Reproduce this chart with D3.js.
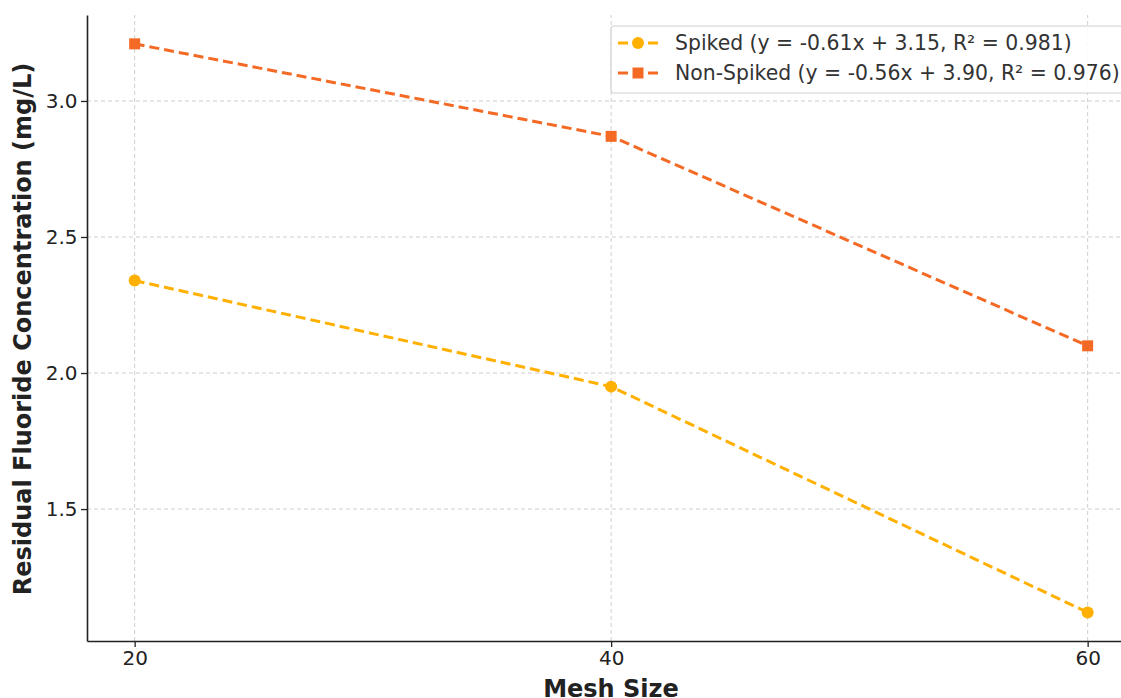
<!DOCTYPE html>
<html>
<head>
<meta charset="utf-8">
<script src="https://cdn.jsdelivr.net/npm/d3@7"></script>
<style>
  body { margin: 0; background: #fff; }
  svg { font-family: "DejaVu Sans", sans-serif; }
</style>
</head>
<body>
<div id="chart"></div>
<script>
const meshSizes = [20, 40, 60];
const spiked = [2.34, 1.95, 1.12];
const nonSpiked = [3.21, 2.87, 2.10];
const yTicks = [1.5, 2.0, 2.5, 3.0];
const seriesNames = [
  "Spiked (y = -0.61x + 3.15, R² = 0.981)",
  "Non-Spiked (y = -0.56x + 3.90, R² = 0.976)"
];
const colors = ["#FFB000", "#F46A25"];

const width = 1121, height = 698;
const margin = { left: 87, right: 0, top: 15, bottom: 57 };

const svg = d3.select("#chart").append("svg")
  .attr("width", width)
  .attr("height", height);

const x = d3.scaleLinear().domain([18, 61.4]).range([margin.left, width - margin.right]);
const y = d3.scaleLinear().domain([1.015, 3.316]).range([height - margin.bottom, margin.top]);

// grid
const grid = svg.append("g");
grid.selectAll(".gx").data(meshSizes).enter().append("line")
  .attr("x1", d => x(d)).attr("x2", d => x(d))
  .attr("y1", y.range()[0]).attr("y2", y.range()[1])
  .attr("stroke", "#cfcfcf").attr("stroke-width", 1).attr("stroke-dasharray", "4,3");
grid.selectAll(".gy").data(yTicks).enter().append("line")
  .attr("x1", x.range()[0]).attr("x2", x.range()[1])
  .attr("y1", d => y(d)).attr("y2", d => y(d))
  .attr("stroke", "#cfcfcf").attr("stroke-width", 1).attr("stroke-dasharray", "4,3");

// axes
const xAxis = svg.append("g")
  .attr("transform", `translate(0, ${height - margin.bottom})`)
  .call(d3.axisBottom(x).tickValues(meshSizes).tickSizeInner(6).tickSizeOuter(0).tickPadding(4).tickFormat(d3.format("d")));
const yAxis = svg.append("g")
  .attr("transform", `translate(${margin.left}, 0)`)
  .call(d3.axisLeft(y).tickValues(yTicks).tickSizeInner(6).tickSizeOuter(0).tickPadding(3.5).tickFormat(d3.format(".1f")));

[xAxis, yAxis].forEach(a => {
  a.select(".domain").attr("stroke", "#222").attr("stroke-width", 1.6);
  a.selectAll(".tick line").attr("stroke", "#222").attr("stroke-width", 1.3);
  a.selectAll(".tick text").attr("fill", "#222").style("font-size", "20px")
    .style("font-family", "DejaVu Sans, sans-serif");
});

// titles
svg.append("text")
  .attr("x", 611).attr("y", 697)
  .attr("text-anchor", "middle")
  .style("font-size", "24px").style("font-weight", "bold").attr("fill", "#222")
  .text("Mesh Size");
svg.append("text")
  .attr("transform", `translate(31, 329) rotate(-90)`)
  .attr("text-anchor", "middle")
  .style("font-size", "24px").style("font-weight", "bold").attr("fill", "#222")
  .text("Residual Fluoride Concentration (mg/L)");

// lines
const allSeries = [spiked, nonSpiked];
const line = d3.line().x((d, i) => x(meshSizes[i])).y(d => y(d));
allSeries.forEach((s, k) => {
  svg.append("path")
    .datum(s)
    .attr("d", line)
    .attr("fill", "none")
    .attr("stroke", colors[k])
    .attr("stroke-width", 3)
    .attr("stroke-dasharray", "10,5");
});

// markers
svg.selectAll(".pt-s").data(spiked).enter().append("circle")
  .attr("cx", (d, i) => x(meshSizes[i])).attr("cy", d => y(d))
  .attr("r", 6).attr("fill", colors[0]);
svg.selectAll(".pt-n").data(nonSpiked).enter().append("rect")
  .attr("x", (d, i) => x(meshSizes[i]) - 5.5).attr("y", d => y(d) - 5.5)
  .attr("width", 11).attr("height", 11).attr("fill", colors[1]);

// legend
const lg = svg.append("g").attr("transform", "translate(611, 26)");
lg.append("rect")
  .attr("x", 0).attr("y", 0).attr("width", 516).attr("height", 67)
  .attr("rx", 3).attr("fill", "#fff").attr("fill-opacity", 0.85)
  .attr("stroke", "#d0d0d0").attr("stroke-width", 1.2);
seriesNames.forEach((name, k) => {
  const cy = 17 + k * 30;
  lg.append("line")
    .attr("x1", 7).attr("x2", 47).attr("y1", cy).attr("y2", cy)
    .attr("stroke", colors[k]).attr("stroke-width", 3).attr("stroke-dasharray", "10,5");
  if (k === 0) {
    lg.append("circle").attr("cx", 27).attr("cy", cy).attr("r", 6).attr("fill", colors[k]);
  } else {
    lg.append("rect").attr("x", 21.5).attr("y", cy - 5.5).attr("width", 11).attr("height", 11).attr("fill", colors[k]);
  }
  lg.append("text")
    .attr("x", 64).attr("y", cy).attr("dy", "0.35em")
    .style("font-size", "20.4px").attr("fill", "#333")
    .text(name);
});
</script>
</body>
</html>
